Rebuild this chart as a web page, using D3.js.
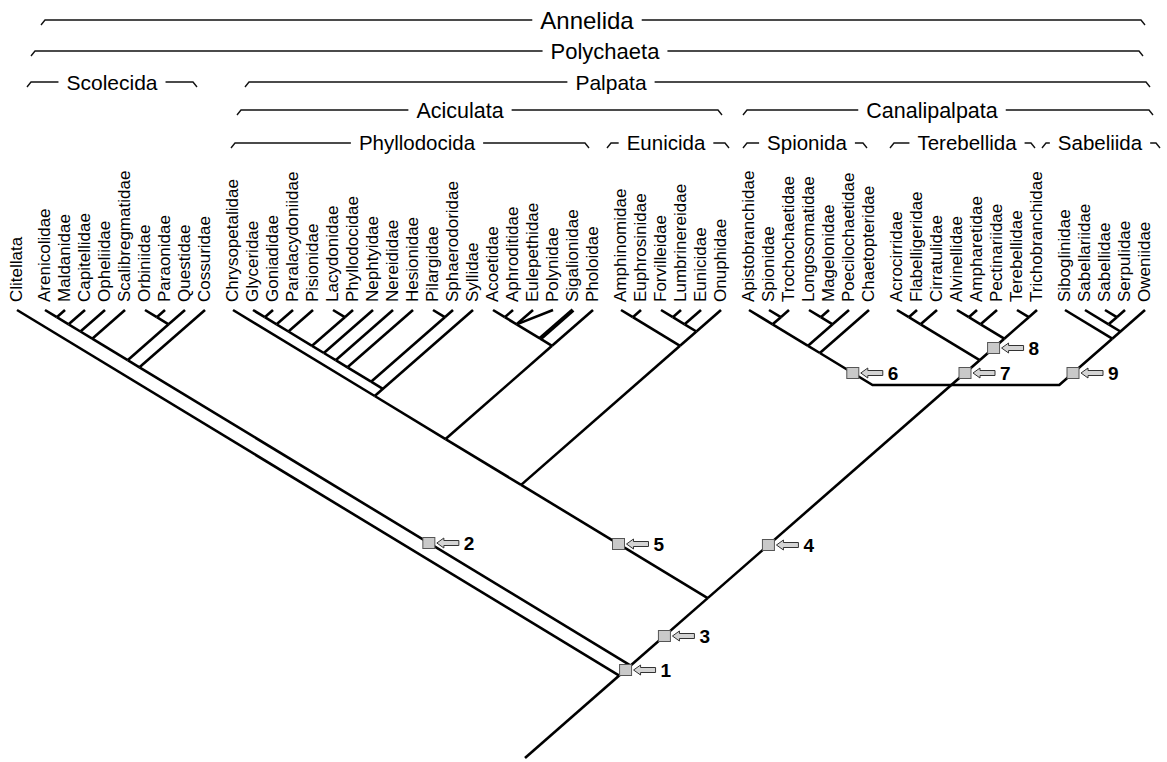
<!DOCTYPE html>
<html>
<head>
<meta charset="utf-8">
<title>Annelida cladogram</title>
<script src="https://cdn.jsdelivr.net/npm/d3@7"></script>
<style>
  body { margin: 0; background: #fff; }
  text { font-family: "Liberation Sans", Arial, Helvetica, sans-serif; fill: #000; }
</style>
</head>
<body>
<div id="chart"></div>
<script>
// terminal taxa, left to right, one list per order
var groups = [
	['Clitellata'],
	['Arenicolidae', 'Maldanidae', 'Capitellidae', 'Opheliidae', 'Scalibregmatidae', 'Orbiniidae', 'Paraonidae', 'Questidae', 'Cossuridae'],
	['Chrysopetalidae', 'Glyceridae', 'Goniadidae', 'Paralacydoniidae', 'Pisionidae', 'Lacydonidae', 'Phyllodocidae', 'Nephtyidae', 'Nereididae', 'Hesionidae', 'Pilargidae', 'Sphaerodoridae', 'Syllidae',
	 'Acoetidae', 'Aphroditidae', 'Eulepethidae', 'Polynidae', 'Sigalionidae', 'Pholoidae'],
	['Amphinomidae', 'Euphrosinidae', 'Forvilleidae', 'Lumbrinereidae', 'Eunicidae', 'Onuphidae'],
	['Apistobranchidae', 'Spionidae', 'Trochochaetidae', 'Longosomatidae', 'Magelonidae', 'Poecilochaetidae', 'Chaetopteridae'],
	['Acrocirridae', 'Flabelligeridae', 'Cirratulidae', 'Alvinellidae', 'Ampharetidae', 'Pectinariidae', 'Terebellidae', 'Trichobranchidae'],
	['Siboglinidae', 'Sabellariidae', 'Sabellidae', 'Serpulidae', 'Oweniidae']
];

// topology (nested lists = clades; anchor = child the parent line runs along)
var scolecida = [[[[[['Arenicolidae', 'Maldanidae'], 'Capitellidae'], 'Opheliidae'], 'Scalibregmatidae'],
	[['Orbiniidae', 'Paraonidae'], 'Questidae']], 'Cossuridae'];
var glyceridClade = [[[[[[[['Glyceridae', 'Goniadidae'], 'Paralacydoniidae'], 'Pisionidae'], ['Lacydonidae', 'Phyllodocidae']],
	'Nephtyidae'], 'Nereididae'], 'Hesionidae'], ['Pilargidae', 'Sphaerodoridae']];
var phyllodocida = ['Chrysopetalidae', glyceridClade, 'Syllidae'];
var aphroditiformia = [[{ children: [['Acoetidae', 'Aphroditidae'], 'Eulepethidae', { name: 'Polynidae', direct: true }], anchor: 1 },
	{ name: 'Sigalionidae', bold: true }], 'Pholoidae'];
var eunicida = [['Amphinomidae', 'Euphrosinidae'], [[['Forvilleidae', 'Lumbrinereidae'], 'Eunicidae'], 'Onuphidae']];
var spionida = [[['Apistobranchidae', ['Spionidae', 'Trochochaetidae']], [['Longosomatidae', 'Magelonidae'], 'Poecilochaetidae']], 'Chaetopteridae'];
var terebellida = [[['Acrocirridae', 'Flabelligeridae'], 'Cirratulidae'], [[['Alvinellidae', 'Ampharetidae'], 'Pectinariidae'], ['Terebellidae', 'Trichobranchidae']]];
var sabellida = ['Siboglinidae', ['Sabellariidae', ['Sabellidae', 'Serpulidae']], 'Oweniidae'];
var canalipalpata = { children: [spionida, terebellida, sabellida], anchor: 1, depth: 75 };
var annelida = ['Clitellata', scolecida, [[[phyllodocida, aphroditiformia], eunicida], canalipalpata]];
var rootDepth = 448;

// numbered nodes: which line they sit on and at what depth
var markers = [
	[1, 'R', 'Trichobranchidae', 360],
	[2, 'L', 'Arenicolidae', 233],
	[3, 'R', 'Trichobranchidae', 326],
	[4, 'R', 'Trichobranchidae', 235],
	[5, 'L', 'Chrysopetalidae', 234],
	[6, 'L', 'Apistobranchidae', 63],
	[7, 'R', 'Trichobranchidae', 63],
	[8, 'R', 'Trichobranchidae', 38],
	[9, 'R', 'Oweniidae', 63]
];

// group brackets: name, level, left end, right end, text centre (in leaf slots)
var brackets = [
	['Annelida', 0, 1.2, 56.4, 28.5],
	['Polychaeta', 1, 0.7, 56.3, 29.4],
	['Palpata', 2, 11.4, 56.65, 29.7],
	['Scolecida', 2, 0.5, 9.0, 4.75],
	['Aciculata', 3, 11.0, 35.25, 22.15],
	['Canalipalpata', 3, 36.3, 56.8, 45.75],
	['Phyllodocida', 4, 10.7, 28.6, 20.0],
	['Eunicida', 4, 29.5, 35.6, 32.45],
	['Spionida', 4, 36.3, 42.5, 39.5],
	['Terebellida', 4, 43.65, 50.9, 47.5],
	['Sabeliida', 4, 51.25, 57.15, 54.15]
];
var levelY = [20, 51, 82, 110, 143];
var levelFont = [24, 22, 21, 21.5, 20.5];

var W = 1167, H = 762;
var sL = 0.607, sR = 0.875; // slopes of left- and right-leaning branches

var svg = d3.select('#chart').append('svg')
	.attr('width', W)
	.attr('height', H);

var slotOf = {}, k = 0, gap = 0.4;
groups.forEach(function(g, gi) {
	g.forEach(function(name) { slotOf[name] = k + gi * gap; k++; });
});
var x = d3.scaleLinear().domain([0, k - 1 + (groups.length - 1) * gap]).range([17, 1145]);
var y = d3.scaleLinear().domain([0, rootDepth]).range([310, 758]);
var y0 = y(0);

function alongL(xl, yy) { return xl + (yy - y0) / sL; }
function alongR(xr, yy) { return xr - (yy - y0) / sR; }
function meet(xl, xr) {
	var xi = (sL * xl + sR * xr) / (sL + sR);
	return [xi, y0 + sL * (xi - xl)];
}
function spec(d) {
	if (typeof d === 'string') return { name: d };
	if (Array.isArray(d)) return { children: d };
	return d;
}

var root = d3.hierarchy(annelida, function(d) { return spec(d).children || null; });
root.eachAfter(function(n) {
	var s = n.s = spec(n.data);
	if (!n.children) {
		n.px = x(slotOf[s.name]); n.py = y0;
		n.left = n.anchorX = n.px;
		return;
	}
	n.ai = s.anchor != null ? s.anchor : n.children.length - 1;
	n.left = n.children[0].left;
	n.anchorX = n.children[n.ai].anchorX;
	if (s.depth != null) {
		n.py = y(s.depth); n.px = alongR(n.anchorX, n.py);
	} else {
		var m = meet(n.left, n.anchorX);
		n.px = m[0]; n.py = m[1];
	}
});

var segs = [];
root.each(function(p) {
	if (!p.children) return;
	var fixed = p.s.depth != null;
	p.children.forEach(function(c, i) {
		var pts;
		if (c.s.direct || i === p.ai || (i === 0 && !fixed)) {
			pts = [[c.px, c.py], [p.px, p.py]];
		} else if (fixed) {
			var xx = i < p.ai ? alongL(c.left, p.py) : alongR(c.anchorX, p.py);
			pts = [[c.px, c.py], [xx, p.py], [p.px, p.py]];
		} else {
			pts = [[c.px, c.py], meet(c.left, p.anchorX)];
		}
		segs.push({ pts: pts, bold: !!c.s.bold });
	});
});
segs.push({ pts: [[root.px, root.py], [alongR(root.anchorX, y(rootDepth)), y(rootDepth)]] });

var line = d3.line();
svg.append('g').selectAll('path')
	.data(segs)
	.enter().append('path')
	.attr('d', function(d) { return line(d.pts); })
	.attr('fill', 'none')
	.attr('stroke', '#000')
	.attr('stroke-width', function(d) { return d.bold ? 4.2 : 2.6; })
	.attr('stroke-linejoin', 'miter');

// leaf names
svg.append('g').selectAll('text')
	.data(root.leaves())
	.enter().append('text')
	.attr('transform', function(d) { return 'translate(' + (d.px + 5) + ',302) rotate(-90)'; })
	.attr('font-size', 17)
	.text(function(d) { return d.s.name; });

// numbered node markers
var mk = svg.append('g').selectAll('g')
	.data(markers)
	.enter().append('g')
	.attr('transform', function(d) {
		var yy = y(d[3]), xl = x(slotOf[d[2]]);
		var xx = d[1] === 'L' ? alongL(xl, yy) : alongR(xl, yy);
		return 'translate(' + xx + ',' + yy + ')';
	});
mk.append('rect')
	.attr('x', -6).attr('y', -5.5)
	.attr('width', 12).attr('height', 11)
	.attr('fill', '#c9c9c9').attr('stroke', '#555').attr('stroke-width', 1);
mk.append('path')
	.attr('d', 'M8,0 L15,-5 L15,-2.5 L30,-2.5 L30,2.5 L15,2.5 L15,5 Z')
	.attr('fill', '#d4d4d4').attr('stroke', '#333').attr('stroke-width', 1);
mk.append('text')
	.attr('x', 35).attr('y', 7)
	.attr('font-size', 19)
	.attr('font-weight', 'bold')
	.text(function(d) { return d[0]; });

// group brackets
var bg = svg.append('g');
brackets.forEach(function(b) {
	var yy = levelY[b[1]], fs = levelFont[b[1]];
	var x0 = x(b[2]), x1 = x(b[3]), tx = x(b[4]);
	var t = bg.append('text')
		.attr('x', tx).attr('y', yy + fs * 0.36)
		.attr('text-anchor', 'middle')
		.attr('font-size', fs)
		.text(b[0]);
	var w = t.node().getComputedTextLength(), pad = 8;
	var a = tx - w / 2 - pad, c = tx + w / 2 + pad;
	bg.append('path')
		.attr('d', 'M' + x0 + ',' + (yy + 5) + 'L' + (x0 + 4) + ',' + yy + 'L' + Math.max(a, x0 + 6) + ',' + yy)
		.attr('fill', 'none').attr('stroke', '#111').attr('stroke-width', 1.4);
	bg.append('path')
		.attr('d', 'M' + Math.min(c, x1 - 6) + ',' + yy + 'L' + (x1 - 4) + ',' + yy + 'L' + x1 + ',' + (yy + 5))
		.attr('fill', 'none').attr('stroke', '#111').attr('stroke-width', 1.4);
});
</script>
</body>
</html>
